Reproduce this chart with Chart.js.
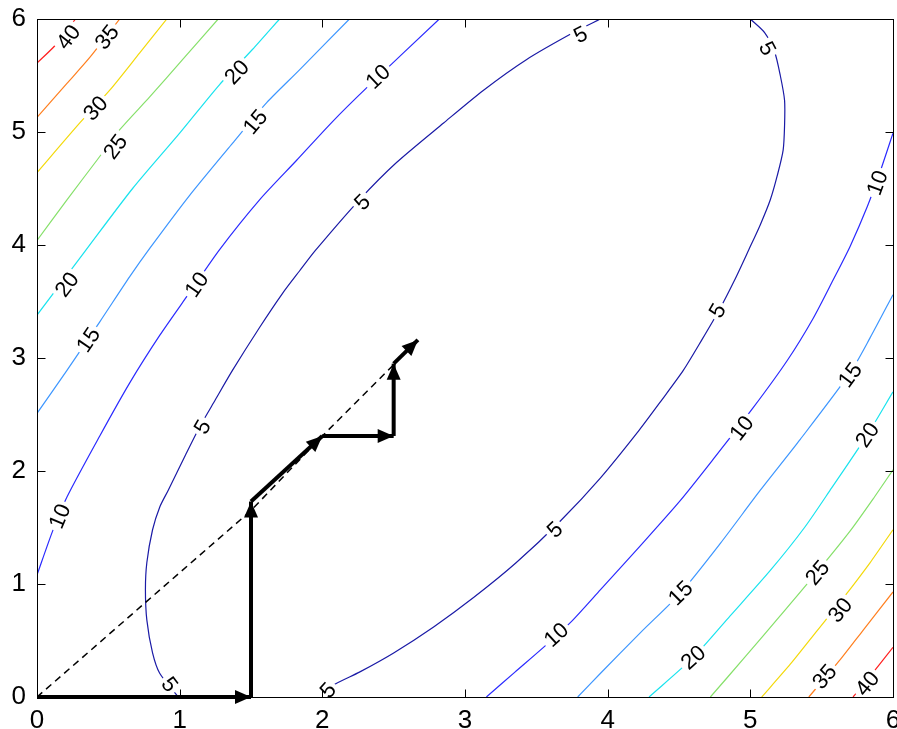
<!DOCTYPE html>
<html>
<head>
<meta charset="utf-8">
<script src="https://cdn.jsdelivr.net/npm/chart.js@4.4.1/dist/chart.umd.min.js"></script>
<style>
html, body { margin: 0; padding: 0; background: #fff; }
#wrap { width: 897px; height: 729px; position: relative; }
</style>
</head>
<body>
<div id="wrap"><canvas id="contourChart"></canvas></div>
<script>
/* contour plot with pattern-search steps */

const tickValues = [0, 1, 2, 3, 4, 5, 6];
const levels = [5, 10, 15, 20, 25, 30, 35, 40];
const levelColors = ['#1a1aa6', '#2a2aff', '#3d96ff', '#19e3ee', '#86e06a', '#f3d90a', '#ff7f1f', '#ff2020'];

// contour pieces, [x, y]
const c5Left = [[0.99,0],[0.86,0.21],[0.81,0.39],[0.77,0.68],[0.76,0.95],[0.77,1.19],[0.81,1.48],[0.86,1.68],[0.92,1.83],[1.04,2.14],[1.14,2.39],[1.25,2.63],[1.37,2.89],[1.56,3.27],[1.72,3.57],[1.84,3.77],[1.95,3.95],[2.26,4.40],[2.52,4.73],[2.85,5.08],[3.13,5.37],[3.43,5.64],[3.76,5.88],[3.95,6.0]];
const c5Right = [[5.00,6.0],[5.10,5.88],[5.17,5.71],[5.21,5.50],[5.24,5.28],[5.24,5.06],[5.23,4.84],[5.19,4.62],[5.14,4.40],[5.07,4.18],[4.99,3.96],[4.89,3.69],[4.78,3.42],[4.66,3.16],[4.53,2.89],[4.38,2.63],[4.22,2.36],[3.95,1.94],[3.67,1.56],[3.36,1.19],[3.06,0.88],[2.78,0.62],[2.50,0.39],[2.26,0.22],[2.07,0.10],[2.00,0]];
const c10Left = [[0,1.08],[0.11,1.47],[0.21,1.77],[0.44,2.31],[0.65,2.78],[0.86,3.20],[1.07,3.58],[1.28,3.96],[1.56,4.40],[1.82,4.75],[2.07,5.09],[2.31,5.39],[2.82,6.0]];
const c10Right = [[3.15,0],[3.35,0.22],[3.56,0.45],[3.74,0.66],[3.95,0.95],[4.23,1.34],[4.51,1.74],[4.75,2.12],[5.02,2.56],[5.26,2.98],[5.44,3.35],[5.58,3.69],[5.70,3.99],[5.82,4.34],[5.91,4.65],[6.0,4.99]];
const c15Left = [[0,2.51],[0.21,2.89],[0.44,3.32],[0.65,3.72],[0.79,3.97],[1.07,4.44],[1.37,4.90],[1.61,5.26],[1.84,5.55],[2.19,6.0]];
const c15Right = [[3.79,0],[3.95,0.21],[4.23,0.57],[4.51,0.92],[4.79,1.36],[5.07,1.83],[5.35,2.28],[5.70,2.87],[5.84,3.18],[6.0,3.56]];
const c20Left = [[0,3.38],[0.34,3.95],[0.67,4.50],[1.00,4.99],[1.28,5.42],[1.51,5.73],[1.70,6.0]];
const c20Right = [[4.29,0],[4.60,0.35],[4.86,0.72],[5.14,1.12],[5.38,1.50],[5.57,1.85],[5.82,2.32],[6.0,2.70]];
const c25Left = [[0,4.04],[0.21,4.40],[0.42,4.75],[0.58,5.02],[0.79,5.31],[1.02,5.64],[1.27,6.0]];
const c25Right = [[4.72,0],[4.96,0.35],[5.21,0.72],[5.47,1.11],[5.70,1.47],[5.87,1.77],[6.0,2.01]];
const c30Left = [[0,4.64],[0.30,5.08],[0.51,5.37],[0.72,5.70],[0.91,6.0]];
const c30Right = [[5.08,0],[5.28,0.29],[5.47,0.59],[5.66,0.89],[5.84,1.19],[6.0,1.48]];
const c35Left = [[0,5.13],[0.21,5.43],[0.37,5.66],[0.58,6.0]];
const c35Right = [[5.41,0],[5.63,0.33],[5.79,0.59],[6.0,0.93]];
const c40Left = [[0,5.61],[0.13,5.77],[0.27,6.0]];
const c40Right = [[5.72,0],[5.85,0.2],[6.0,0.44]];

const contourPieces = [
    [5, c5Left], [5, c5Right], [10, c10Left], [10, c10Right],
    [15, c15Left], [15, c15Right], [20, c20Left], [20, c20Right],
    [25, c25Left], [25, c25Right], [30, c30Left], [30, c30Right],
    [35, c35Left], [35, c35Right], [40, c40Left], [40, c40Right]
];

// inline contour labels
const labelLevels = [40, 35, 30, 25, 20, 15, 20, 15, 10, 10, 10, 5, 5, 5, 5, 5, 5, 5, 5, 10, 10, 10, 15, 15, 20, 20, 25, 30, 35, 40];
const labelX = [0.22, 0.49, 0.41, 0.55, 1.40, 1.53, 0.21, 0.36, 2.39, 1.12, 0.16, 1.16, 2.28, 3.81, 5.12, 0.93, 2.04, 4.77, 3.63, 5.89, 4.94, 3.64, 5.70, 4.51, 5.82, 4.60, 5.47, 5.63, 5.52, 5.82];
const labelY = [5.84, 5.84, 5.21, 4.87, 5.53, 5.09, 3.65, 3.16, 5.49, 3.65, 1.60, 2.39, 4.38, 5.86, 5.74, 0.11, 0.06, 3.42, 1.48, 4.55, 2.38, 0.55, 2.85, 0.92, 2.32, 0.35, 1.10, 0.77, 0.18, 0.12];

// search steps (arrows) and the dashed pattern line
const stepFrom = [[0, 0], [1.5, 0], [1.5, 1.73], [2.0, 2.31], [2.5, 2.31], [2.5, 2.95]];
const stepTo = [[1.5, 0], [1.5, 1.73], [2.0, 2.31], [2.5, 2.31], [2.5, 2.95], [2.67, 3.16]];
const patternX = [0, 1.5, 2.0, 2.5];
const patternY = [0, 1.65, 2.31, 2.94];

const FONT = '"Liberation Sans", Arial, sans-serif';

function lineAngleNear(chart, level, px, py) {
    let best = Infinity, ang = 0;
    chart.data.datasets.forEach((ds, k) => {
        if (ds.level !== level) return;
        const pts = chart.getDatasetMeta(k).data;
        for (let i = 0; i < pts.length - 1; i++) {
            const ax = pts[i].x, ay = pts[i].y, bx = pts[i + 1].x, by = pts[i + 1].y;
            const dx = bx - ax, dy = by - ay;
            const L = dx * dx + dy * dy || 1;
            let t = ((px - ax) * dx + (py - ay) * dy) / L;
            t = Math.max(0, Math.min(1, t));
            const d = Math.hypot(ax + t * dx - px, ay + t * dy - py);
            if (d < best) { best = d; ang = Math.atan2(dy, dx); }
        }
    });
    if (ang > Math.PI / 2) ang -= Math.PI;
    if (ang < -Math.PI / 2) ang += Math.PI;
    return ang;
}

const contourLabels = {
    id: 'contourLabels',
    afterDatasetDraw(chart, args) {
        if (args.index !== 0) return; // last contour drawn, arrows still to come
        const { ctx, scales: { x, y } } = chart;
        ctx.font = '22px ' + FONT;
        ctx.textAlign = 'center';
        ctx.textBaseline = 'middle';
        labelLevels.forEach((lv, i) => {
            const px = x.getPixelForValue(labelX[i]);
            const py = y.getPixelForValue(labelY[i]);
            const ang = lineAngleNear(chart, lv, px, py);
            const text = String(lv);
            const w = ctx.measureText(text).width;
            ctx.save();
            ctx.translate(px, py);
            ctx.rotate(ang);
            ctx.fillStyle = '#fff';
            ctx.fillRect(-w / 2 - 3, -8, w + 6, 16);
            ctx.fillStyle = '#000';
            ctx.fillText(text, 0, 1);
            ctx.restore();
        });
    }
};

const arrowHeads = {
    id: 'arrowHeads',
    afterDatasetsDraw(chart) {
        const { ctx, scales: { x, y } } = chart;
        ctx.save();
        ctx.fillStyle = '#000';
        stepFrom.forEach((p, i) => {
            const x0 = x.getPixelForValue(p[0]), y0 = y.getPixelForValue(p[1]);
            const x1 = x.getPixelForValue(stepTo[i][0]), y1 = y.getPixelForValue(stepTo[i][1]);
            const a = Math.atan2(y1 - y0, x1 - x0);
            const len = 16, half = 7;
            ctx.beginPath();
            ctx.moveTo(x1, y1);
            ctx.lineTo(x1 - len * Math.cos(a) + half * Math.sin(a), y1 - len * Math.sin(a) - half * Math.cos(a));
            ctx.lineTo(x1 - len * Math.cos(a) - half * Math.sin(a), y1 - len * Math.sin(a) + half * Math.cos(a));
            ctx.closePath();
            ctx.fill();
        });
        ctx.restore();
    }
};

const frameTicks = {
    id: 'frameTicks',
    afterDraw(chart) {
        const { ctx, chartArea: a, scales: { x, y } } = chart;
        const L = Math.round(a.left) + 0.5, R = Math.round(a.right) + 0.5;
        const T = Math.round(a.top) + 0.5, B = Math.round(a.bottom) + 0.5;
        ctx.save();
        ctx.strokeStyle = '#000';
        ctx.lineWidth = 1;
        ctx.strokeRect(L, T, R - L, B - T);
        ctx.beginPath();
        tickValues.forEach(v => {
            const px = Math.round(x.getPixelForValue(v)) + 0.5;
            ctx.moveTo(px, B); ctx.lineTo(px, B - 8);
            ctx.moveTo(px, T); ctx.lineTo(px, T + 8);
            const py = Math.round(y.getPixelForValue(v)) + 0.5;
            ctx.moveTo(L, py); ctx.lineTo(L + 8, py);
            ctx.moveTo(R, py); ctx.lineTo(R - 8, py);
        });
        ctx.stroke();
        ctx.restore();
    }
};

function initChart() {
    const canvas = document.getElementById('contourChart');
    const datasets = contourPieces.map(([lv, pts]) => ({
        level: lv,
        data: pts.map(p => ({ x: p[0], y: p[1] })),
        showLine: true,
        borderColor: levelColors[levels.indexOf(lv)],
        borderWidth: 1.2,
        tension: 0.25,
        pointRadius: 0,
        order: 2
    }));
    datasets.push({
        data: patternX.map((v, i) => ({ x: v, y: patternY[i] })),
        showLine: true,
        borderColor: '#000',
        borderWidth: 1.5,
        borderDash: [7, 5],
        pointRadius: 0,
        order: 1
    });
    stepFrom.forEach((p, i) => {
        datasets.push({
            data: [{ x: p[0], y: p[1] }, { x: stepTo[i][0], y: stepTo[i][1] }],
            showLine: true,
            borderColor: '#000',
            borderWidth: 4,
            pointRadius: 0,
            clip: false,
            order: 1
        });
    });

    new Chart(canvas, {
        type: 'scatter',
        data: { datasets },
        options: {
            responsive: true,
            maintainAspectRatio: false,
            animation: false,
            events: [],
            layout: { padding: { top: 19, right: 4, left: 0, bottom: 0 } },
            plugins: { legend: { display: false }, tooltip: { enabled: false } },
            scales: {
                x: {
                    type: 'linear', min: 0, max: 6,
                    afterBuildTicks: s => { s.ticks = tickValues.map(v => ({ value: v })); },
                    grid: { display: false, drawTicks: false },
                    border: { display: false },
                    ticks: { color: '#000', font: { family: FONT, size: 26 }, padding: 8, maxRotation: 0 },
                    afterFit: s => { s.height = 32; s.paddingLeft = 0; s.paddingRight = 0; }
                },
                y: {
                    type: 'linear', min: 0, max: 6,
                    afterBuildTicks: s => { s.ticks = tickValues.map(v => ({ value: v })); },
                    grid: { display: false, drawTicks: false },
                    border: { display: false },
                    ticks: { color: '#000', font: { family: FONT, size: 26 }, padding: 11 },
                    afterFit: s => { s.width = 37; s.paddingTop = 0; s.paddingBottom = 0; }
                }
            }
        },
        plugins: [contourLabels, arrowHeads, frameTicks]
    });
}

document.addEventListener('DOMContentLoaded', initChart);
</script>
</body>
</html>
